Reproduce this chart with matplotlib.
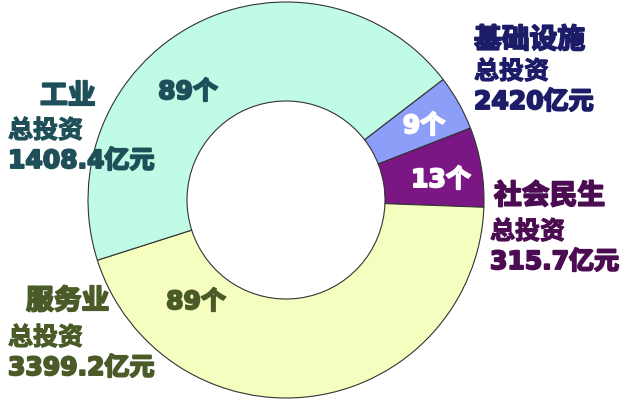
import matplotlib.pyplot as plt
import matplotlib.patheffects as pe

plt.rcParams['font.family'] = ['Noto Sans CJK SC', 'DejaVu Sans']

# project counts and total investment per sector
sectors = ['基础设施', '社会民生', '服务业', '工业']
counts = [9, 13, 89, 89]
invest = ['2420', '315.7', '3399.2', '1408.4']

wedge_colors = ['#8c9ef8', '#7a1785', '#f5fdbf', '#c0fbe6']
text_colors = ['#1c1c68', '#4c0c52', '#4a5b28', '#1f4f58']
count_colors = ['white', 'white', '#4a5b28', '#1f4f58']

# label anchors in pixel coords (x, y from top)
name_pos = [(474, 41), (494, 197), (26, 302), (40, 97)]
sub_pos = [(474, 73), (490, 233), (8, 339), (8, 132)]
count_pos = [(424, 127), (441, 181), (196, 303), (188, 93)]

W, H = 630, 402
fig = plt.figure(figsize=(W / 100, H / 100), dpi=100)
ax = fig.add_axes([0, 0, 1, 1])

ax.pie(counts, colors=wedge_colors, startangle=37.5, counterclock=False,
       center=(286, 201), radius=198, frame=False,
       wedgeprops=dict(width=99, edgecolor='#333333', linewidth=0.8))
ax.set_xlim(0, W)
ax.set_ylim(0, H)
ax.set_aspect('equal')
ax.axis('off')


def heavy(c, lw=1.4):
    # thicken glyphs with an outline in the fill colour
    return [pe.withStroke(linewidth=lw, foreground=c)]


num_font = ['DejaVu Sans', 'Noto Sans CJK SC']
for i, name in enumerate(sectors):
    c = text_colors[i]
    x, y = name_pos[i]
    ax.text(x, H - y, name, color=c, fontsize=20, fontweight='bold',
            ha='left', va='center', path_effects=heavy(c, 1.3))
    x, y = sub_pos[i]
    ax.text(x, H - y, '总投资', color=c, fontsize=18, fontweight='bold',
            ha='left', va='center', path_effects=heavy(c, 0.8))
    ax.text(x, H - y - 30, invest[i] + '亿元', color=c, fontsize=18,
            fontweight='bold', ha='left', va='center', family=num_font,
            path_effects=heavy(c, 1.4))
    x, y = count_pos[i]
    cc = count_colors[i]
    ax.text(x, H - y, f'{counts[i]}个', color=cc, fontsize=18,
            fontweight='bold', ha='center', va='center', family=num_font,
            path_effects=heavy(cc, 1.4))

fig.savefig('out.png', dpi=100)
